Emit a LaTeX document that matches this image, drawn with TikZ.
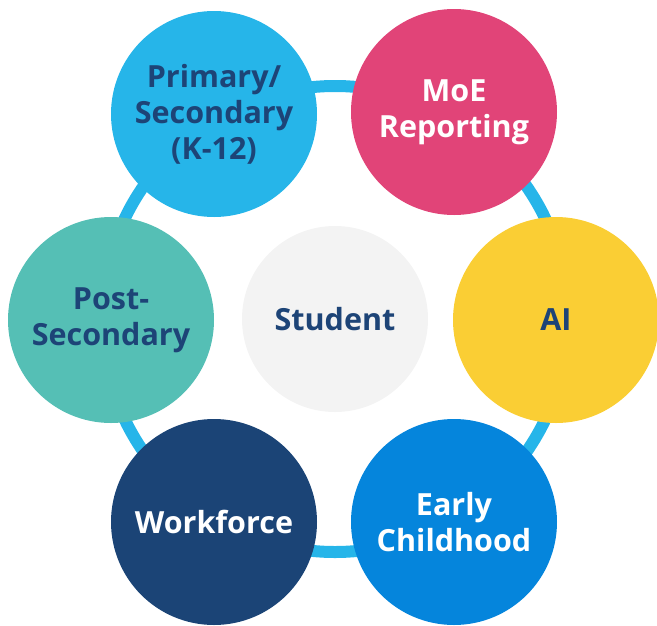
\documentclass[tikz,border=0pt]{standalone}
\usepackage{fontspec}
\setmainfont{Open Sans}
\usetikzlibrary{positioning}
\definecolor{ringblue}{HTML}{26B5E9}
\definecolor{pinkred}{HTML}{E14478}
\definecolor{sunyellow}{HTML}{FACE34}
\definecolor{midblue}{HTML}{0585DC}
\definecolor{darknavy}{HTML}{1B4476}
\definecolor{seateal}{HTML}{55BFB5}
\definecolor{palegray}{HTML}{F3F3F3}
\definecolor{textnavy}{HTML}{1D4477}

\begin{document}
\begin{tikzpicture}[x=1pt, y=-1pt,
                    main/.style = {circle, minimum size=206pt, inner sep=0pt, align=center,
                                   font=\fontsize{30.5}{36}\selectfont\bfseries, text=textnavy},
                    hub/.style = {main, minimum size=186pt, fill=palegray},
                    ring/.style = {draw=ringblue, line width=12pt}]
\useasboundingbox (0,0) rectangle (657,625);
    \node[hub] (student) at (335,319) {Student};
    \draw[ring] (student.center) circle (233pt);
\node[main, fill=ringblue] (primary) at (214,114) {Primary/\\Secondary\\(K-12)};
\node[main, fill=pinkred, text=white] (moe) at (454,112) {MoE\\Reporting};
\node[main, fill=sunyellow] (ai) at (556,320) {AI};
\node[main, fill=midblue, text=white] (early) at (454,522) {Early\\Childhood};
\node[main, fill=darknavy, text=white] (workforce) at (214,522) {Workforce};
\node[main, fill=seateal] (post) at (111,320) {Post-\\Secondary};
\end{tikzpicture}
\end{document}
